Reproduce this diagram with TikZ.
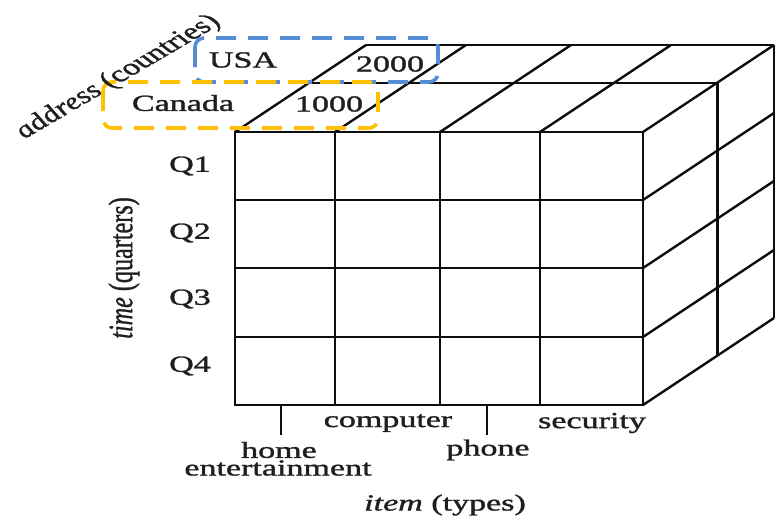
\documentclass[tikz,border=0pt]{standalone}
\usepackage{fontspec}
\setmainfont{Liberation Serif}[FakeBold=1.2]
\usepackage{graphicx}
\definecolor{dblue}{RGB}{85,142,213}
\definecolor{dorange}{RGB}{255,192,0}
\newcommand\wt[1]{\scalebox{1.48}[1]{#1}}
\tikzset{
  grid/.style={line width=2.4pt, black!95},
  lbl/.style={inner sep=0pt, font=\fontsize{23}{23}\selectfont, text=black!88},
  dbox/.style={line width=3.6pt, dash pattern=on 20pt off 12pt, rounded corners=9pt},
}
\begin{document}
\begin{tikzpicture}[x=1pt,y=-1pt]
\useasboundingbox (0,0) rectangle (775,519);
% front face
\draw[grid] (235,132) rectangle (643,405);
\foreach \x in {335,440,540} \draw[grid] (\x,132) -- (\x,405);
\foreach \y in {200,268,337} \draw[grid] (235,\y) -- (643,\y);
% top face
\foreach \x in {235,335,440,540,643} \draw[grid] (\x,132) -- ++(131,-87);
\draw[grid] (309,83) -- (717,83);
\draw[grid] (366,45) -- (774,45);
% right face
\draw[grid, line width=3pt] (717,83) -- (717,356);
\draw[grid] (774,45) -- (774,318);
\foreach \y in {200,268,337,405} \draw[grid] (643,\y) -- ++(131,-87);
% ticks
\coordinate (t1) at (281,405);
\coordinate (t1e) at (281,435);
\coordinate (t2) at (487,405);
\coordinate (t2e) at (487,435);
\draw[grid] (t1) -- (t1e);
\draw[grid] (t2) -- (t2e);
% labels on top
\node[lbl] (usa) at (243,60) {\wt{USA}};
\node[lbl] (v2000) at (390,64) {\wt{2000}};
\node[lbl] (canada) at (183,103) {\wt{Canada}};
\node[lbl] (v1000) at (329,104) {\wt{1000}};
% dashed boxes
\draw[dbox, dblue] (195,38) rectangle (438,82);
\draw[dbox, dorange] (103,82) rectangle (378,128);
% row labels
\node[lbl] (q1) at (190,166) {\wt{Q1}};
\node[lbl] (q2) at (190,233) {\wt{Q2}};
\node[lbl] (q3) at (190,299) {\wt{Q3}};
\node[lbl] (q4) at (190,366) {\wt{Q4}};
% column labels
\node[lbl] (comp) at (388,423) {\wt{computer}};
\node[lbl] (sec) at (592,423) {\wt{security}};
\node[lbl] (home) at (279,450) {\wt{home}};
\node[lbl] (ent) at (278,468) {\wt{entertainment}};
\node[lbl] (phone) at (488,450) {\wt{phone}};
% axis titles
\node[lbl] (itemt) at (445,505) {\wt{\textit{item} (types)}};
\node[lbl, rotate=90] (timet) at (124,268) {\scalebox{1.05}[1.48]{\textit{time} (quarters)}};
\begin{scope}[xscale=1.48]
\node[lbl, rotate=41, transform shape] (addr) at (118/1.48,77) {\textit{address} (countries)};
\end{scope}
\end{tikzpicture}
\end{document}
